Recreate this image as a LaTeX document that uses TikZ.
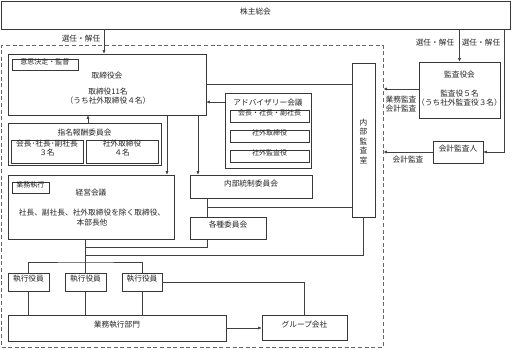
\documentclass[tikz,border=0pt]{standalone}
\usepackage{fontspec}
\setmainfont{Noto Sans CJK JP}
\usetikzlibrary{fit,arrows.meta}
\begin{document}
\begin{tikzpicture}[x=1pt,y=-1pt,
  every node/.style={font=\fontsize{7.7}{9.5}\selectfont, text=black!85},
  bx/.style={draw=black!78, line width=0.7pt, inner sep=0pt, align=center},
  sm/.style={font=\fontsize{7}{8.5}\selectfont},
  tx/.style={inner sep=0pt, align=center},
  ln/.style={draw=black!75, line width=0.6pt},
  arr/.style={ln, -{Latex[length=3.5pt,width=3.2pt]}},
  frm/.style={draw=black!60, line width=1pt, dash pattern=on 4pt off 2.6pt, inner sep=0pt}]
\useasboundingbox[fill=white] (0,0) rectangle (511,350);

% frame
\node[frm, fit={(1.5,45.5) (383,347)}] (frame) {};

% top
\node[bx, fit={(1,1) (510,29)}] (kabu) {株主総会};

% board
\node[bx, fit={(8,54) (206,115)}] (tori) {};
\node[bx, sm, fit={(12,59.5) (78,70.5)}] (tag1) {意思決定・監督};
\node[tx] (t1) at (107,76) {取締役会};
\node[tx] (t2) at (108,92) {取締役11名};
\node[tx] (t3) at (108,101) {（うち社外取締役４名）};

% nomination
\node[bx, fit={(8,123) (161,165)}] (shimei) {};
\node[tx] (st) at (84.5,133) {指名報酬委員会};
\node[bx, fit={(11,140) (83,163)}] (s1) {会長･社長･副社長\\３名};
\node[bx, fit={(86,140) (158,163)}] (s2) {社外取締役\\４名};

% management
\node[bx, fit={(8,175) (174,239)}] (keiei) {};
\node[bx, sm, fit={(12,182.5) (49,193.5)}] (tag2) {業務執行};
\node[tx] (k1) at (91,193) {経営会議};
\node[tx] (k2) at (92,213) {社長、副社長、社外取締役を除く取締役、};
\node[tx] (k3) at (92,223) {本部長他};

% advisory
\node[bx, fit={(225,93) (311,168)}] (adv) {};
\node[tx] (at) at (268,102.5) {アドバイザリー会議};
\node[bx, sm, fit={(230,110) (309,122.5)}] (a1) {会長・社長・副社長};
\node[bx, sm, fit={(230,130) (309,142.5)}] (a2) {社外取締役};
\node[bx, sm, fit={(230,150) (309,162.5)}] (a3) {社外監査役};

\node[bx, fit={(190,175) (312,198)}] (naibu) {内部統制委員会};
\node[bx, fit={(190,217) (266,239)}] (kakushu) {各種委員会};

% internal audit
\node[bx, fit={(352,63) (375,217)}] (ia) {};
\node[tx, font=\fontsize{7.7}{9.5}\selectfont] (iat) at (363.5,141) {内\\部\\監\\査\\室};

% auditors
\node[bx, fit={(419,62) (500,118)}] (kyk) {};
\node[tx] (y1) at (459.5,75) {監査役会};
\node[tx] (y2) at (459.5,94) {監査役５名};
\node[tx] (y3) at (459.5,103) {（うち社外監査役３名）};
\node[bx, fit={(433,141) (483,163)}] (kaikei) {会計監査人};

% executives
\node[bx, fit={(8,273) (49,291)}] (e1) {執行役員};
\node[bx, fit={(65,273) (106,291)}] (e2) {執行役員};
\node[bx, fit={(122,273) (162,291)}] (e3) {執行役員};
\node[bx, fit={(8,315) (226,341)}] (gyomu) {業務執行部門};
\node[bx, fit={(262,315) (347,340)}] (grp) {グループ会社};

% labels
\node[tx] (l1) at (81,39) {選任・解任};
\node[tx] (l2) at (435,43) {選任・解任};
\node[tx] (l3) at (481,43) {選任・解任};
\node[tx] (l4) at (401,104) {業務監査\\会計監査};
\node[tx] (l5) at (408,160) {会計監査};

% connectors
\draw[arr] (kabu.south -| 104,0) -- (tori.north -| 104,0);
\draw[arr] (kabu.south -| kyk.north) -- (kyk.north);
\draw[arr] (kabu.south -| 504,0) |- (kaikei.east);
\draw[arr] (kyk.west |- 0,89) -- (frame.east |- 0,89);
\draw[arr] (kaikei.west) -- (kaikei.west -| frame.east);
\draw[ln] (tori.east |- 0,84) -- (ia.west |- 0,84);
\draw[arr] (adv.west |- 0,102) -- (tori.east |- 0,102);
\draw[arr] (shimei.north -| 88,0) -- (tori.south -| 88,0);
\draw[arr] (tori.south -| 167,0) -- (keiei.north -| 167,0);
\draw[arr] (tori.south -| 198,0) -- (naibu.north -| 198,0);
\draw[ln] (naibu.south -| 207,0) -- (kakushu.north -| 207,0);
\draw[ln] (207,207) -- (ia.west |- 0,207);
\draw[ln] (kakushu.south -| 207,0) |- (e2.north |- 0,247);
\draw[ln] (ia.south) |- (e2.north |- 0,255);
\draw[ln] (keiei.south -| e2.north) -- (e2.north);
\draw[ln] (e1.north) |- (e2.north |- 0,262) -| (e3.north);
\draw[ln] (e1.south) -- (e1.south |- gyomu.north);
\draw[ln] (e2.south) -- (e2.south |- gyomu.north);
\draw[ln] (e3.south) -- (e3.south |- gyomu.north);
\draw[ln] (e3.east) -| (grp.north);
\draw[arr] (gyomu.east |- 0,328) -- (grp.west |- 0,328);
\end{tikzpicture}
\end{document}
